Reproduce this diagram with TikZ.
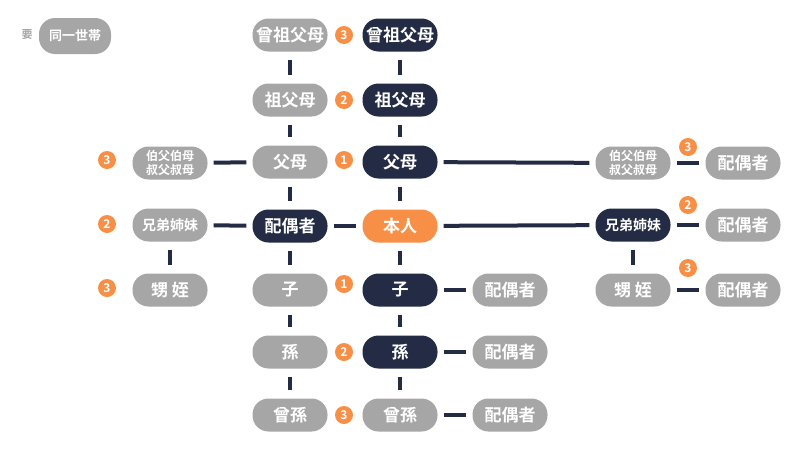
\documentclass[tikz,border=0pt]{standalone}
\usepackage{fontspec}
\setmainfont{Noto Sans CJK JP}[BoldFont={* Bold}]
\definecolor{navy}{HTML}{232B45}
\definecolor{gr}{HTML}{A6A6A6}
\definecolor{org}{HTML}{F78F47}
\begin{document}
\begin{tikzpicture}[x=1pt,y=-1pt,
 box/.style={rounded corners=16pt,minimum width=75pt,minimum height=33pt,inner sep=1pt,text=white,font=\bfseries\fontsize{17}{17}\selectfont,align=center},
 gbox/.style={box,fill=gr},
 dbox/.style={box,fill=navy},
 obox/.style={box,fill=org},
 sm/.style={font=\bfseries\fontsize{12}{14}\selectfont},
 badge/.style={circle,fill=org,text=white,minimum size=18pt,inner sep=0pt,font=\bfseries\fontsize{12}{12}\selectfont},
 ln/.style={draw=navy,line width=4pt},
 vl/.style={ln,shorten <=8pt,shorten >=8pt},
 hl/.style={ln,shorten <=6pt,shorten >=6pt}]
\useasboundingbox (0,0) rectangle (800,450);
\node[text=gr,font=\bfseries\fontsize{11}{11}\selectfont] (yo) at (27,35) {要};
\node[gbox,minimum width=72pt,minimum height=36pt,font=\bfseries\fontsize{13}{13}\selectfont] (leg) at (75,36) {同一世帯};
% column A
\node[gbox] (a1) at (290,35) {曾祖父母};
\node[gbox] (a2) at (290,100) {祖父母};
\node[gbox] (a3) at (290,162) {父母};
\node[dbox] (a4) at (290,226) {配偶者};
\node[gbox] (a5) at (290,290) {子};
\node[gbox] (a6) at (290,352) {孫};
\node[gbox] (a7) at (290,415) {曾孫};
% column B
\node[dbox] (b1) at (400,35) {曾祖父母};
\node[dbox] (b2) at (400,100) {祖父母};
\node[dbox] (b3) at (400,162) {父母};
\node[obox] (b4) at (400,226) {本人};
\node[dbox] (b5) at (400,290) {子};
\node[dbox] (b6) at (400,352) {孫};
\node[gbox] (b7) at (400,415) {曾孫};
\foreach \i/\j in {1/2,2/3,3/4,4/5,5/6,6/7}{\draw[vl] (a\i) -- (a\j); \draw[vl] (b\i) -- (b\j);}
\node[badge] (n1) at (344,35) {3};
\node[badge] (n2) at (344,100) {2};
\node[badge] (n3) at (344,160) {1};
\node[badge] (n4) at (344,284) {1};
\node[badge] (n5) at (344,352) {2};
\node[badge] (n6) at (344,415) {3};
% left
\node[gbox,sm] (l1) at (170,163) {伯父伯母\\叔父叔母};
\node[gbox,font=\bfseries\fontsize{14}{14}\selectfont] (l2) at (170,225) {兄弟姉妹};
\node[gbox] (l3) at (170,290) {甥 姪};
\node[badge] (m1) at (107,160) {3};
\node[badge] (m2) at (107,224) {2};
\node[badge] (m3) at (107,288) {3};
\draw[hl] (l1) -- (a3);
\draw[hl] (l2) -- (a4);
\draw[vl] (l2) -- (l3);
\draw[hl] (a4) -- (b4);
% spouses of col B
\node[gbox] (s5) at (510,290) {配偶者};
\node[gbox] (s6) at (510,352) {配偶者};
\node[gbox] (s7) at (510,415) {配偶者};
\draw[hl] (b5) -- (s5);
\draw[hl] (b6) -- (s6);
\draw[hl] (b7) -- (s7);
% right
\node[gbox,sm] (r1) at (633,163) {伯父伯母\\叔父叔母};
\node[dbox,font=\bfseries\fontsize{14}{14}\selectfont] (r2) at (633,225) {兄弟姉妹};
\node[gbox] (r3) at (633,290) {甥 姪};
\node[gbox] (t1) at (743,163) {配偶者};
\node[gbox] (t2) at (743,225) {配偶者};
\node[gbox] (t3) at (743,290) {配偶者};
\node[badge] (k1) at (688,147) {3};
\node[badge] (k2) at (688,205) {2};
\node[badge] (k3) at (688,268) {3};
\draw[hl] (b3) -- (r1);
\draw[hl] (b4) -- (r2);
\draw[vl] (r2) -- (r3);
\draw[hl] (r1) -- (t1);
\draw[hl] (r2) -- (t2);
\draw[hl] (r3) -- (t3);
\end{tikzpicture}
\end{document}
